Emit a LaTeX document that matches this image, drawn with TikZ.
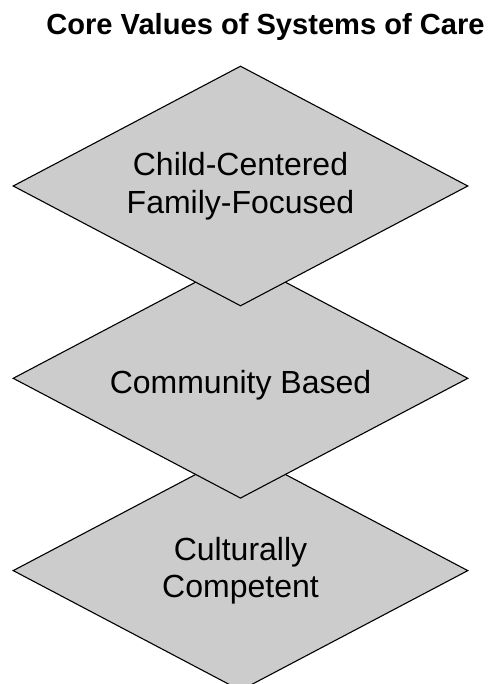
\documentclass[tikz,border=0pt]{standalone}
\usepackage{fontspec}
\setmainfont{Liberation Sans}
\usetikzlibrary{shapes.geometric}

\begin{document}
\begin{tikzpicture}[x=1pt,y=-1pt,
  value/.style={diamond, aspect=1.896, draw, fill=black!20, line width=1.1pt,
    minimum width=455pt, minimum height=240pt, inner sep=0pt,
    align=center, font=\fontsize{32}{37.5}\selectfont}]
\useasboundingbox (0,0) rectangle (490,684);
\node[anchor=base, font=\bfseries\fontsize{29.1}{34}\selectfont] (title) at (265.5,34.3) {Core Values of Systems of Care};
% bottom one first so the upper diamonds overlap it
\node[value] (CC) at (240.5,570.6) {Culturally\\Competent};
\node[value, text height=30pt, text depth=0pt] (CB) at (240.5,378.3) {Community Based};
\node[value] (CF) at (240.5,186) {Child-Centered\\Family-Focused};
\end{tikzpicture}
\end{document}
